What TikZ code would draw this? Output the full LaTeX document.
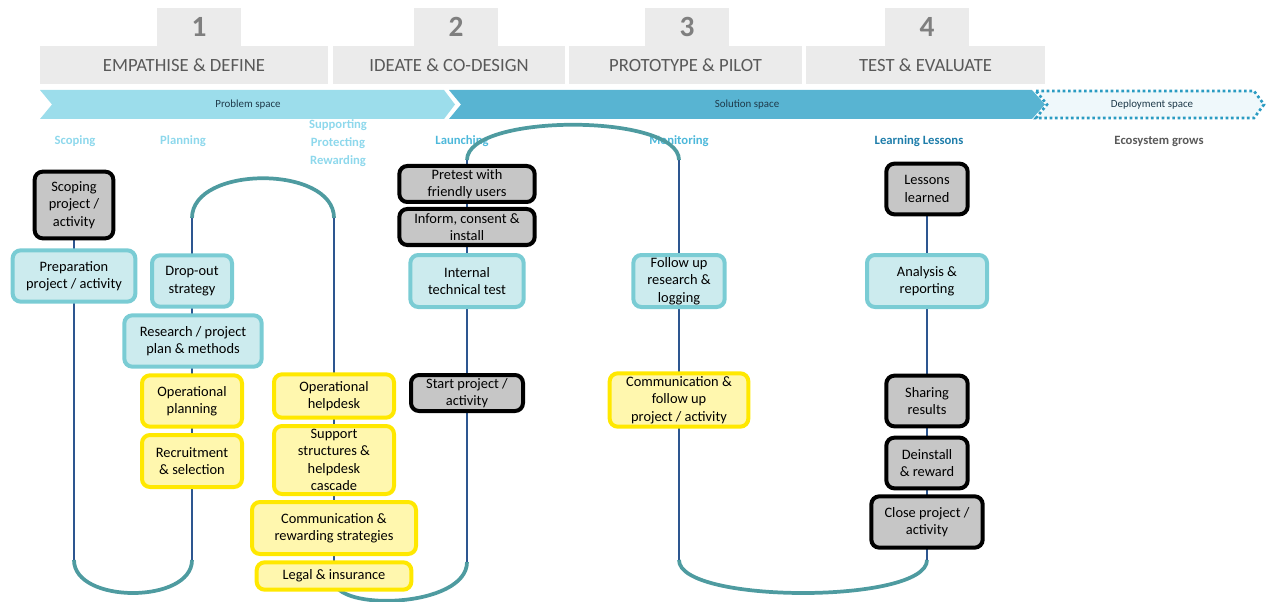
\documentclass[tikz,border=0pt]{standalone}
\usepackage{fontspec}
\setmainfont{Carlito}
\usetikzlibrary{backgrounds}
\definecolor{tabgray}{HTML}{EBEBEB}
\definecolor{numgray}{HTML}{7F7F7F}
\definecolor{headgray}{HTML}{595959}
\definecolor{probfill}{HTML}{9CDDEB}
\definecolor{solfill}{HTML}{58B4D2}
\definecolor{depfill}{HTML}{EFF8FB}
\definecolor{depline}{HTML}{2A9BC2}
\definecolor{spacetext}{HTML}{1F3A4A}
\definecolor{stagelight}{HTML}{8ED8EC}
\definecolor{stagemid}{HTML}{4DB8DA}
\definecolor{stagedark}{HTML}{1E7DAA}
\definecolor{boxgray}{HTML}{C6C6C6}
\definecolor{cyanfill}{HTML}{CCEBEE}
\definecolor{cyanline}{HTML}{7ACCD4}
\definecolor{yelfill}{HTML}{FFF7AE}
\definecolor{yelline}{HTML}{FFE800}
\definecolor{trackblue}{HTML}{2D5690}
\definecolor{trackteal}{HTML}{4E9BA0}
\begin{document}
\begin{tikzpicture}[x=0.75pt,y=-0.75pt]
    % 定义样式
    \tikzstyle{numtab}=[fill=tabgray, inner sep=0pt, minimum width=63pt, minimum height=28.5pt, text=numgray, font=\fontsize{22}{22}\selectfont\bfseries]
    \tikzstyle{phasebox}=[fill=tabgray, inner sep=0pt, minimum height=28.5pt, text=headgray, font=\fontsize{14}{14}\selectfont]
    \tikzstyle{spacelabel}=[inner sep=0pt, text=spacetext, font=\fontsize{8.2}{10}\selectfont]
    \tikzstyle{stagelabel}=[inner sep=0pt, align=center, font=\fontsize{9.5}{13.5}\selectfont\bfseries]
    \tikzstyle{card}=[rounded corners=6pt, line width=3pt, align=center, inner sep=0pt, font=\fontsize{10.8}{13}\selectfont]
    \tikzstyle{graycard}=[card, draw=black, fill=boxgray]
    \tikzstyle{cyancard}=[card, draw=cyanline, fill=cyanfill]
    \tikzstyle{yellowcard}=[card, draw=yelline, fill=yelfill]
    \tikzstyle{trackv}=[line width=1.8pt, draw=trackblue]
    \tikzstyle{trackc}=[line width=2.8pt, draw=trackteal]

    \useasboundingbox (0,0) rectangle (1280,602);

    % 1. 四个阶段的标题
    \node[numtab] (n1) at (199,27) {1};
    \node[numtab] (n2) at (456,27) {2};
    \node[numtab] (n3) at (687,27) {3};
    \node[numtab] (n4) at (927,27) {4};
    \node[phasebox, minimum width=216pt] (ph1) at (184,65) {EMPATHISE \& DEFINE};
    \node[phasebox, minimum width=174pt] (ph2) at (449,65) {IDEATE \& CO-DESIGN};
    \node[phasebox, minimum width=174.75pt] (ph3) at (685.5,65) {PROTOTYPE \& PILOT};
    \node[phasebox, minimum width=179.25pt] (ph4) at (925.5,65) {TEST \& EVALUATE};

    % 2. 箭头条 (problem / solution / deployment)
    \fill[probfill] (40,90) -- (444,90) -- (455,104.5) -- (444,119) -- (40,119) -- (52,104.5) -- cycle;
    \fill[solfill] (449,90) -- (1032,90) -- (1045,104.5) -- (1032,119) -- (449,119) -- (461,104.5) -- cycle;
    \draw[fill=depfill, draw=depline, line width=2pt, dash pattern=on 2pt off 2pt]
        (1036,91) -- (1254,91) -- (1264,104.5) -- (1254,118) -- (1036,118) -- (1047,104.5) -- cycle;
    \node[spacelabel] (probl) at (248,105) {Problem space};
    \node[spacelabel] (soll) at (747,105) {Solution space};
    \node[spacelabel] (depl) at (1152,105) {Deployment space};

    % 3. 各步骤名称
    \node[stagelabel, text=stagelight] (scoping) at (75,141) {Scoping};
    \node[stagelabel, text=stagelight] (planning) at (183,141) {Planning};
    \node[stagelabel, text=stagelight] (supporting) at (338,143) {Supporting\\Protecting\\Rewarding};
    \node[stagelabel, text=stagemid] (launching) at (462,141) {Launching};
    \node[stagelabel, text=stagemid] (monitoring) at (679,141) {Monitoring};
    \node[stagelabel, text=stagedark] (learning) at (919,141) {Learning Lessons};
    \node[stagelabel, text=headgray] (eco) at (1159,141) {Ecosystem grows};

    % 4. 方框
    \node[graycard, minimum width=59pt, minimum height=50pt] (scope) at (74,205) {Scoping\\project /\\activity};
    \node[cyancard, minimum width=92pt, minimum height=38.5pt] (prep) at (74,276) {Preparation\\project / activity};

    \node[cyancard, minimum width=60pt, minimum height=38.5pt] (dropout) at (192,281) {Drop-out\\strategy};
    \node[cyancard, minimum width=103pt, minimum height=38.5pt] (research) at (193,341) {Research / project\\plan \& methods};
    \node[yellowcard, minimum width=75pt, minimum height=38.5pt] (opplan) at (192,401) {Operational\\planning};
    \node[yellowcard, minimum width=75pt, minimum height=39pt] (recruit) at (192,461) {Recruitment\\\& selection};

    \node[yellowcard, minimum width=90pt, minimum height=32.5pt] (ophelp) at (334,396) {Operational\\helpdesk};
    \node[yellowcard, minimum width=90pt, minimum height=51pt] (support) at (334,460) {Support\\structures \&\\helpdesk\\cascade};
    \node[yellowcard, minimum width=123pt, minimum height=39pt] (commrew) at (334,528) {Communication \&\\rewarding strategies};
    \node[yellowcard, minimum width=116pt, minimum height=20.5pt] (legal) at (334,576) {Legal \& insurance};

    \node[graycard, minimum width=101.5pt, minimum height=27pt] (pretest) at (467,184) {Pretest with\\friendly users};
    \node[graycard, minimum width=101.5pt, minimum height=27pt] (inform) at (467,227) {Inform, consent \&\\install};
    \node[cyancard, minimum width=85pt, minimum height=39pt] (internal) at (467,281) {Internal\\technical test};
    \node[graycard, minimum width=84pt, minimum height=27pt] (start) at (467,393) {Start project /\\activity};

    \node[cyancard, minimum width=68.5pt, minimum height=39pt] (follow) at (679,281) {Follow up\\research \&\\logging};
    \node[yellowcard, minimum width=104pt, minimum height=40pt] (commfol) at (679,400) {Communication \&\\follow up\\project / activity};

    \node[graycard, minimum width=61pt, minimum height=38pt] (lessons) at (927,189) {Lessons\\learned};
    \node[cyancard, minimum width=90pt, minimum height=39pt] (analysis) at (927,281) {Analysis \&\\reporting};
    \node[graycard, minimum width=61pt, minimum height=38pt] (sharing) at (927,401) {Sharing\\results};
    \node[graycard, minimum width=61pt, minimum height=38pt] (deinstall) at (927,463) {Deinstall\\\& reward};
    \node[graycard, minimum width=83.5pt, minimum height=38.5pt] (close) at (927,522) {Close project /\\activity};

    % 5. 连接线 (蛇形路线)
    \coordinate (a1) at (74,560);
    \coordinate (a2) at (192,560);
    \coordinate (a3) at (192,218);
    \coordinate (a4) at (334,218);
    \coordinate (a5) at (334,580);
    \coordinate (a6) at (467,562);
    \coordinate (a7) at (467,160);
    \coordinate (a8) at (679,160);
    \coordinate (a9) at (679,560);
    \coordinate (a10) at (927,560);
    \begin{scope}[on background layer]
        \draw[trackv] (scope.south) -- (a1);
        \draw[trackc] (a1) .. controls +(0,44) and +(0,44) .. (a2);
        \draw[trackv] (a2) -- (a3);
        \draw[trackc] (a3) .. controls +(0,-53) and +(0,-53) .. (a4);
        \draw[trackv] (a4) -- (a5);
        \draw[trackc] (a5) .. controls +(0,32) and +(0,46) .. (a6);
        \draw[trackv] (a6) -- (a7);
        \draw[trackv] (a8) -- (a9);
        \draw[trackc] (a9) .. controls +(0,44) and +(0,44) .. (a10);
        \draw[trackv] (a10) -- (lessons.south);
    \end{scope}
    \draw[trackc] (a7) .. controls +(0,-47) and +(0,-47) .. (a8);

\end{tikzpicture}
\end{document}
